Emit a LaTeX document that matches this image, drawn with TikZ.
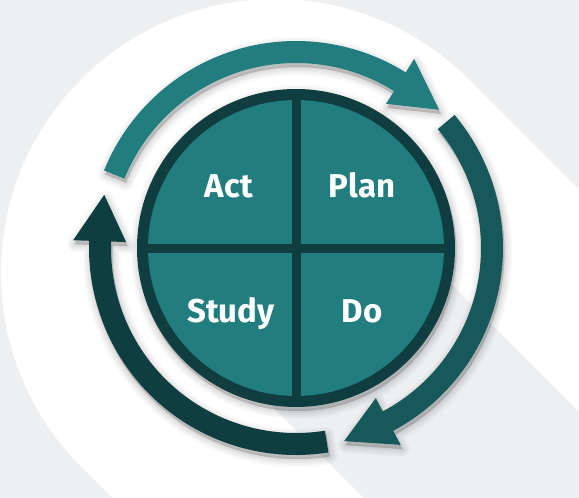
\documentclass[tikz,border=0pt]{standalone}
\usepackage{fontspec}
\setmainfont{Fira Sans}
\definecolor{bgc}{HTML}{EEEFF1}
\definecolor{bandc}{HTML}{EEEFF1}
\definecolor{tealA}{HTML}{227D7F}
\definecolor{tealB}{HTML}{17585A}
\definecolor{tealC}{HTML}{0F3E41}
\definecolor{ringc}{HTML}{0F3D40}
\tikzset{
  label/.style={text=white, font=\fontsize{33}{33}\selectfont\bfseries, anchor=base, inner sep=0pt},
  divider/.style={ringc, line width=9pt},
  shadowlayer/.style={draw=black, fill=black, opacity=#1, line join=round},
}
\newcommand{\arrowTop}{(158:207) arc[start angle=158, end angle=58, radius=207]
     -- (58:223) -- (44:199) -- (58:170) -- (58:185)
     arc[start angle=58, end angle=158, radius=185] -- cycle}
\newcommand{\arrowRight}{(40:207) arc[start angle=40, end angle=-62, radius=207]
     -- (-62:223) -- (-76:199) -- (-62:170) -- (-62:185)
     arc[start angle=-62, end angle=40, radius=185] -- cycle}
\newcommand{\arrowLeft}{(-81:207) arc[start angle=-81, end angle=-182, radius=207]
     -- (-182:223) -- (-195.5:199) -- (-182:170) -- (-182:185)
     arc[start angle=-182, end angle=-81, radius=185] -- cycle}
\newcommand{\discPath}{(0,0) circle[radius=159]}
\newcommand{\softshade}[1]{%
  \foreach \w/\o in {16/0.025, 12/0.03, 8/0.035, 4/0.04, 0.5/0.05}{%
    \path[shadowlayer=\o, line width=\w pt, shift={(1.5,-4)}] #1;}}
\begin{document}
\begin{tikzpicture}[x=1pt,y=1pt]
\useasboundingbox (0,0) rectangle (579,-498);
\fill[bgc] (0,0) rectangle (579,-498);
% white disc and its long band
\fill[white] (275,-273) circle[radius=274];
\fill[white] (468.7,-79.3) -- (1068.7,-679.3) -- (681.3,-1066.7) -- (81.3,-466.7) -- cycle;
% long shadow of the centre disc
\fill[bandc] (451,-284) -- (1051,-884) -- (871,-1005) -- (271,-405) -- cycle;
\begin{scope}[shift={(296,-248)}]
  % soft drop shadows
  \softshade{\arrowTop}
  \softshade{\arrowRight}
  \softshade{\arrowLeft}
  \softshade{\discPath}
  % arrows
  \fill[tealA] \arrowTop;
  \fill[tealB] \arrowRight;
  \fill[tealC] \arrowLeft;
  % centre disc
  \fill[ringc] \discPath;
  \fill[tealA] (0,0) circle[radius=148];
  \coordinate (top) at (0,156);
  \coordinate (bottom) at (0,-156);
  \coordinate (left) at (-156,0);
  \coordinate (right) at (156,0);
  \draw[divider] (top) -- (bottom);
  \draw[divider] (left) -- (right);
\end{scope}
\node[label] (act) at (229,-197) {Act};
\node[label] (plan) at (362,-197) {Plan};
\node[label] (study) at (231,-322) {Study};
\node[label] (do) at (362,-322) {Do};
\end{tikzpicture}
\end{document}
